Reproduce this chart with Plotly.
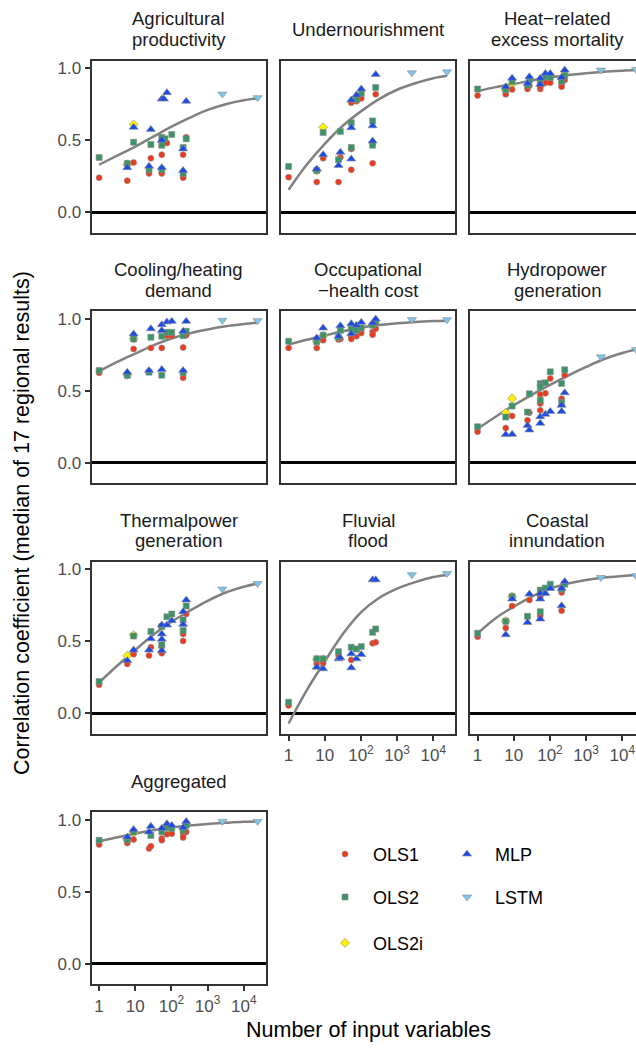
import plotly.graph_objects as go

# ---------------- data (x = number of input variables, y = median correlation) ----------------
PANELS = ["agr", "und", "heat", "cool", "occ", "hydro", "therm", "fluv", "coast", "aggr"]
TITLES = ["Agricultural\nproductivity", "Undernourishment", "Heat\u2212related\nexcess mortality",
          "Cooling/heating\ndemand", "Occupational\n\u2212health cost", "Hydropower\ngeneration",
          "Thermalpower\ngeneration", "Fluvial\nflood", "Coastal\ninnundation", "Aggregated"]

MODELS = ["OLS1", "OLS2", "OLS2i", "MLP", "LSTM"]

X_TICKS = [1, 10, 100, 1000, 10000]
X_TICKTEXT = ["1", "10", "10<sup>2</sup>", "10<sup>3</sup>", "10<sup>4</sup>"]
Y_TICKS = [0, 0.5, 1.0]
Y_TICKTEXT = ["0.0", "0.5", "1.0"]

LSTM_X = [2560, 24000]
FIT_X = [1, 3.16, 10, 31.6, 100, 316, 1000, 3162, 10000, 24000]

# Agricultural productivity
agr_ols1 = [(1, 0.24), (6, 0.22), (9, 0.345), (24, 0.27), (27, 0.375), (54, 0.40), (54, 0.27),
            (75, 0.48), (210, 0.40), (210, 0.24), (256, 0.52)]
agr_ols2 = [(1, 0.38), (6, 0.34), (9, 0.486), (24, 0.295), (27, 0.47), (54, 0.52), (54, 0.465),
            (54, 0.295), (66, 0.51), (102, 0.54), (210, 0.45), (210, 0.27), (256, 0.51)]
agr_ols2i = [(6, 0.33), (9, 0.61)]
agr_mlp = [(6, 0.31), (9, 0.59), (24, 0.32), (27, 0.575), (54, 0.786), (54, 0.50), (54, 0.31),
           (62, 0.786), (75, 0.83), (210, 0.44), (210, 0.29), (256, 0.77)]
agr_lstm = [0.82, 0.795]
agr_fit = [0.33, 0.393, 0.456, 0.525, 0.594, 0.655, 0.71, 0.75, 0.777, 0.79]

# Undernourishment
und_ols1 = [(1, 0.244), (6, 0.21), (9, 0.375), (24, 0.21), (27, 0.382), (54, 0.76), (54, 0.44),
            (54, 0.295), (75, 0.77), (102, 0.79), (210, 0.48), (210, 0.34), (256, 0.818)]
und_ols2 = [(1, 0.318), (6, 0.29), (9, 0.553), (24, 0.364), (27, 0.56), (54, 0.622), (54, 0.45),
            (75, 0.78), (102, 0.825), (210, 0.634), (210, 0.465), (256, 0.866)]
und_ols2i = [(6, 0.29), (9, 0.59)]
und_mlp = [(6, 0.30), (9, 0.40), (24, 0.325), (27, 0.417), (54, 0.779), (54, 0.587), (54, 0.37),
           (75, 0.813), (102, 0.855), (210, 0.60), (210, 0.495), (256, 0.956)]
und_lstm = [0.967, 0.974]
und_fit = [0.157, 0.33, 0.475, 0.60, 0.70, 0.785, 0.85, 0.895, 0.93, 0.947]

# Heat-related excess mortality
heat_ols1 = [(1, 0.81), (6, 0.818), (9, 0.852), (24, 0.855), (27, 0.878), (54, 0.855), (54, 0.87),
             (75, 0.898), (102, 0.898), (210, 0.89), (210, 0.87), (256, 0.917)]
heat_ols2 = [(1, 0.855), (6, 0.85), (9, 0.905), (24, 0.88), (27, 0.917), (54, 0.905), (75, 0.94),
             (102, 0.935), (210, 0.91), (256, 0.951)]
heat_ols2i = [(6, 0.85), (9, 0.89)]
heat_mlp = [(6, 0.87), (9, 0.93), (24, 0.894), (27, 0.94), (54, 0.93), (54, 0.887), (75, 0.963),
            (102, 0.963), (210, 0.935), (256, 0.986)]
heat_lstm = [0.986, 0.99]
heat_fit = [0.84, 0.868, 0.89, 0.914, 0.935, 0.952, 0.965, 0.975, 0.982, 0.986]

# Cooling/heating demand
cool_ols1 = [(1, 0.624), (9, 0.79), (27, 0.797), (54, 0.797), (75, 0.882), (102, 0.882), (210, 0.59),
             (210, 0.80), (256, 0.885)]
cool_ols2 = [(1, 0.64), (6, 0.606), (9, 0.859), (24, 0.629), (27, 0.871), (54, 0.608), (54, 0.878),
             (75, 0.905), (102, 0.905), (210, 0.624), (210, 0.882), (256, 0.912)]
cool_ols2i = [(6, 0.61), (9, 0.86)]
cool_mlp = [(6, 0.629), (9, 0.894), (24, 0.64), (27, 0.93), (54, 0.648), (54, 0.958), (54, 0.917),
            (75, 0.977), (102, 0.981), (210, 0.64), (210, 0.912), (256, 0.981)]
cool_lstm = [0.988, 0.986]
cool_fit = [0.635, 0.70, 0.758, 0.815, 0.862, 0.898, 0.925, 0.947, 0.962, 0.972]

# Occupational-health cost
occ_ols1 = [(1, 0.797), (6, 0.797), (9, 0.85), (24, 0.855), (27, 0.859), (54, 0.878), (54, 0.859),
            (75, 0.878), (102, 0.90), (210, 0.907), (210, 0.889), (256, 0.93)]
occ_ols2 = [(1, 0.843), (6, 0.84), (9, 0.885), (24, 0.87), (27, 0.919), (54, 0.93), (75, 0.919),
            (102, 0.935), (210, 0.954), (256, 0.974)]
occ_ols2i = [(6, 0.84), (9, 0.88)]
occ_mlp = [(6, 0.866), (9, 0.935), (24, 0.878), (27, 0.951), (54, 0.965), (54, 0.896), (75, 0.954),
           (102, 0.974), (210, 0.97), (256, 0.997)]
occ_lstm = [0.993, 0.993]
occ_fit = [0.82, 0.853, 0.883, 0.912, 0.937, 0.955, 0.968, 0.977, 0.983, 0.986]

# Hydropower generation
hydro_ols1 = [(1, 0.216), (6, 0.242), (9, 0.325), (24, 0.295), (27, 0.348), (54, 0.474), (54, 0.412),
              (54, 0.364), (75, 0.482), (102, 0.585), (210, 0.445), (256, 0.608)]
hydro_ols2 = [(1, 0.251), (6, 0.318), (9, 0.394), (24, 0.352), (27, 0.479), (54, 0.551), (54, 0.527),
              (54, 0.435), (75, 0.555), (102, 0.631), (210, 0.551), (210, 0.42), (256, 0.645)]
hydro_ols2i = [(6, 0.348), (9, 0.447)]
hydro_mlp = [(6, 0.196), (9, 0.198), (24, 0.26), (27, 0.228), (54, 0.32), (54, 0.274), (75, 0.337),
             (102, 0.357), (210, 0.399), (210, 0.357), (256, 0.486)]
hydro_lstm = [0.735, 0.786]
hydro_fit = [0.237, 0.32, 0.40, 0.472, 0.54, 0.605, 0.665, 0.72, 0.762, 0.786]

# Thermalpower generation
therm_ols1 = [(1, 0.198), (6, 0.343), (9, 0.41), (24, 0.401), (27, 0.458), (54, 0.463), (54, 0.417),
              (210, 0.551), (210, 0.502), (256, 0.689)]
therm_ols2 = [(1, 0.221), (9, 0.537), (27, 0.567), (54, 0.601), (54, 0.475), (75, 0.67), (102, 0.689),
              (210, 0.648), (210, 0.574), (256, 0.744)]
therm_ols2i = [(6, 0.399), (9, 0.544)]
therm_mlp = [(6, 0.366), (9, 0.44), (24, 0.44), (27, 0.518), (54, 0.613), (54, 0.551), (54, 0.514),
             (54, 0.435), (75, 0.613), (102, 0.643), (210, 0.705), (210, 0.617), (256, 0.786)]
therm_lstm = [0.862, 0.90]
therm_fit = [0.214, 0.33, 0.44, 0.545, 0.635, 0.71, 0.78, 0.838, 0.878, 0.90]

# Fluvial flood
fluv_ols1 = [(1, 0.055), (6, 0.343), (9, 0.348), (24, 0.401), (54, 0.371), (210, 0.486), (256, 0.493)]
fluv_ols2 = [(1, 0.078), (6, 0.378), (9, 0.378), (24, 0.428), (54, 0.458), (75, 0.447), (102, 0.463),
             (210, 0.562), (256, 0.585)]
fluv_ols2i = [(6, 0.375), (9, 0.375)]
fluv_mlp = [(6, 0.32), (9, 0.309), (24, 0.378), (27, 0.385), (54, 0.413), (54, 0.316), (75, 0.378),
            (102, 0.408), (210, 0.926), (256, 0.926)]
fluv_lstm = [0.961, 0.97]
fluv_fit = [-0.07, 0.16, 0.36, 0.55, 0.70, 0.80, 0.865, 0.91, 0.945, 0.96]

# Coastal innundation
coast_ols1 = [(1, 0.532), (6, 0.592), (9, 0.744), (27, 0.786), (54, 0.811), (54, 0.677), (210, 0.838),
              (210, 0.712)]
coast_ols2 = [(1, 0.555), (6, 0.638), (9, 0.811), (24, 0.673), (54, 0.855), (54, 0.705), (75, 0.869),
              (102, 0.896), (210, 0.86), (256, 0.896)]
coast_ols2i = [(6, 0.64), (9, 0.81)]
coast_mlp = [(6, 0.546), (9, 0.793), (24, 0.631), (27, 0.827), (54, 0.831), (54, 0.793), (54, 0.654),
             (75, 0.831), (102, 0.866), (210, 0.866), (210, 0.746), (256, 0.914)]
coast_lstm = [0.942, 0.954]
coast_fit = [0.555, 0.66, 0.74, 0.81, 0.865, 0.90, 0.925, 0.942, 0.953, 0.96]

# Aggregated
aggr_ols1 = [(1, 0.827), (6, 0.838), (9, 0.862), (24, 0.80), (27, 0.816), (54, 0.87), (54, 0.857),
             (75, 0.899), (102, 0.903), (210, 0.896), (210, 0.876), (256, 0.915)]
aggr_ols2 = [(1, 0.857), (6, 0.86), (9, 0.915), (27, 0.89), (54, 0.917), (75, 0.945), (102, 0.938),
             (210, 0.926), (256, 0.961)]
aggr_ols2i = [(6, 0.86), (9, 0.91)]
aggr_mlp = [(6, 0.88), (9, 0.931), (24, 0.915), (27, 0.954), (54, 0.94), (75, 0.972), (102, 0.96),
            (210, 0.945), (256, 0.988)]
aggr_lstm = [0.988, 0.988]
aggr_fit = [0.849, 0.878, 0.903, 0.926, 0.945, 0.959, 0.97, 0.978, 0.985, 0.988]

# ---------------- styling ----------------
G = globals()
STYLE = {
    "OLS1": dict(symbol="circle", color="#EE3A1C", size=6),
    "OLS2": dict(symbol="square", color="#3A9468", size=6),
    "OLS2i": dict(symbol="diamond", color="#FFF000", size=7),
    "MLP": dict(symbol="triangle-up", color="#1A4BE6", size=8),
    "LSTM": dict(symbol="triangle-down", color="#7CC6EA", size=8),
}
DRAW_ORDER = ["OLS2i", "OLS1", "OLS2", "MLP", "LSTM"]
LEGEND_OF = {"OLS1": "legend", "MLP": "legend2", "OLS2": "legend3", "LSTM": "legend4", "OLS2i": "legend5"}

W, H = 650, 1048
COL_LEFT = [91.5, 281.0, 470.0]
ROW_TOP = [59.0, 310.0, 561.0, 812.0]
PW, PH = 174.0, 172.0
FONT = "Liberation Sans, Arial, sans-serif"

fig = go.Figure()
layout = dict(width=W, height=H, margin=dict(l=0, r=0, t=0, b=0),
              paper_bgcolor="white", plot_bgcolor="white", showlegend=True,
              font=dict(family=FONT, color="#1A1A1A"))
annotations = []

for i, p in enumerate(PANELS):
    r, c = divmod(i, 3)
    n = i + 1
    xa = "x" if n == 1 else f"x{n}"
    ya = "y" if n == 1 else f"y{n}"
    x0 = COL_LEFT[c] / W
    x1 = (COL_LEFT[c] + PW) / W
    y1 = 1 - ROW_TOP[r] / H
    y0 = 1 - (ROW_TOP[r] + PH) / H
    bottom = (p in ("aggr", "fluv", "coast"))
    left = (c == 0)
    layout["xaxis" if n == 1 else f"xaxis{n}"] = dict(
        domain=[x0, x1], anchor=ya, type="log", range=[-0.21, 4.6],
        tickvals=X_TICKS, ticktext=X_TICKTEXT, showticklabels=bottom,
        ticks="outside" if bottom else "", ticklen=5, tickwidth=1.5, tickcolor="#333333",
        tickfont=dict(size=17, color="#4D4D4D", family=FONT),
        showgrid=False, zeroline=False, showline=True, mirror=True,
        linecolor="#333333", linewidth=2)
    layout["yaxis" if n == 1 else f"yaxis{n}"] = dict(
        domain=[y0, y1], anchor=xa, range=[-0.14, 1.05],
        tickvals=Y_TICKS, ticktext=Y_TICKTEXT, showticklabels=left,
        ticks="outside" if left else "", ticklen=5, tickwidth=1.5, tickcolor="#333333",
        tickfont=dict(size=17, color="#4D4D4D", family=FONT),
        showgrid=False, zeroline=True, zerolinecolor="black", zerolinewidth=2.5,
        showline=True, mirror=True, linecolor="#333333", linewidth=2)

    fig.add_trace(go.Scatter(x=FIT_X, y=G[f"{p}_fit"], mode="lines",
                             line=dict(color="#808080", width=2.5, shape="spline", smoothing=1.0),
                             xaxis=xa, yaxis=ya, showlegend=False, hoverinfo="skip"))
    for m in DRAW_ORDER:
        if m == "LSTM":
            xs, ys = LSTM_X, G[f"{p}_lstm"]
        else:
            pts = G[f"{p}_{m.lower()}"]
            xs, ys = [a for a, b in pts], [b for a, b in pts]
        st = STYLE[m]
        fig.add_trace(go.Scatter(
            x=xs, y=ys, mode="markers", name=m, xaxis=xa, yaxis=ya,
            marker=dict(symbol=st["symbol"], color=st["color"], size=st["size"],
                        line=dict(color="#8C8C8C", width=0.6)),
            showlegend=(i == 0), legend=LEGEND_OF[m]))

    # strip title
    lines = TITLES[i].split("\n")
    cx = (COL_LEFT[c] + PW / 2) / W
    cy = 27.5 + 251 * r
    offs = [0.0] if len(lines) == 1 else [-10.5, 10.5]
    for txt, off in zip(lines, offs):
        annotations.append(dict(text=txt, x=cx, y=1 - (cy + off) / H, xref="paper", yref="paper",
                                showarrow=False, xanchor="center", yanchor="middle",
                                font=dict(size=18.5, color="#1A1A1A", family=FONT)))

# axis titles
annotations.append(dict(text="Number of input variables", x=368 / W, y=1 - 1030 / H,
                        xref="paper", yref="paper", showarrow=False, xanchor="center", yanchor="middle",
                        font=dict(size=21.5, color="black", family=FONT)))
annotations.append(dict(text="Correlation coefficient (median of 17 regional results)", x=22 / W,
                        y=1 - 522 / H, xref="paper", yref="paper", showarrow=False, textangle=-90,
                        xanchor="center", yanchor="middle",
                        font=dict(size=21.5, color="black", family=FONT)))
layout["annotations"] = annotations

# legends (column-major layout as in reference)
LEG_POS = {"legend": (345, 854), "legend2": (467, 854), "legend3": (345, 897),
           "legend4": (467, 897), "legend5": (345, 943)}
for key, (mx, my) in LEG_POS.items():
    layout[key] = dict(x=(mx - 28) / W, y=1 - my / H, xanchor="left", yanchor="middle",
                       bgcolor="rgba(0,0,0,0)", borderwidth=0, itemwidth=46,
                       font=dict(size=18, color="black", family=FONT))

fig.update_layout(**layout)
fig.write_html("out.html", config={"displayModeBar": False},
               post_script="document.documentElement.style.overflow='hidden';"
                           "document.body.style.overflow='hidden';")
